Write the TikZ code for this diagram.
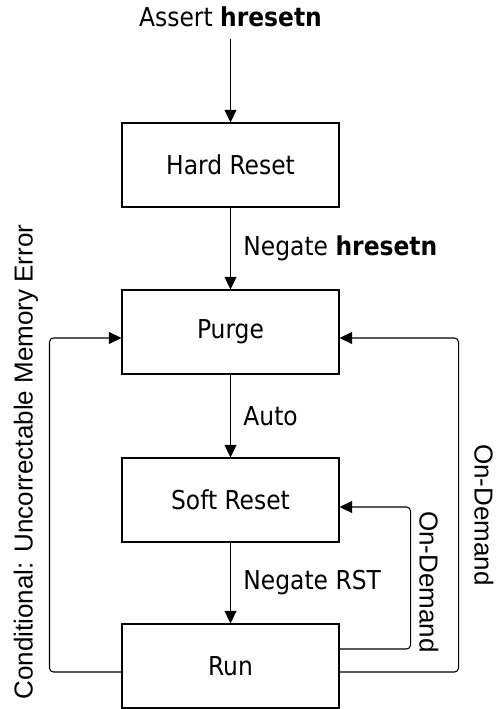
\documentclass[tikz,border=0pt]{standalone}
\usepackage{fontspec}
\setmainfont{DejaVu Sans Condensed}
\newfontfamily\sidefont{Liberation Sans}
\usetikzlibrary{arrows.meta,positioning}
\tikzset{
  statebox/.style={draw,line width=0.8pt,minimum width=162.75pt,minimum height=63pt,
                   font=\fontsize{19.5}{23}\selectfont},
  arr/.style={-{Triangle[length=9.5pt,width=9pt]},line width=0.8pt},
  lbl/.style={font=\fontsize{19.5}{23}\selectfont},
  side/.style={font=\sidefont\fontsize{19.5}{23}\selectfont},
}

\begin{document}
\begin{tikzpicture}[x=0.75pt,y=-0.75pt]
\useasboundingbox (0,0) rectangle (496,709);

% states
\node[statebox] (hard)  at (230.5,165) {Hard Reset};
\node[statebox] (purge) at (230.5,332) {Purge};
\node[statebox] (soft)  at (230.5,500) {Soft Reset};
\node[statebox] (run)   at (230.5,666) {Run};

\node[lbl,anchor=base] (assert) at (230.5,27) {Assert \textbf{hresetn}};

% main flow
\draw[arr,shorten <=5pt] (assert) -- (hard);
\draw[arr] (hard) -- node[lbl,right=6pt] {Negate \textbf{hresetn}} (purge);
\draw[arr] (purge) -- node[lbl,right=6pt] {Auto} (soft);
\draw[arr] (soft) -- node[lbl,right=6pt] {Negate RST} (run);

% return paths
\draw[arr,rounded corners=3pt] ([yshift=-4.5pt]run.west) -- ++(-72,0)
  |- ([yshift=-4.5pt]purge.west);
\draw[arr,rounded corners=3pt] ([yshift=-4.5pt]run.east) -- ++(119,0)
  |- ([yshift=-4.5pt]purge.east);
\draw[arr,rounded corners=3pt] ([yshift=12.75pt]run.east) -- ++(71,0)
  |- ([yshift=-5.25pt]soft.east);

% side labels
\node[side,rotate=90]  (cond)   at (26,462)  {Conditional: Uncorrectable Memory Error};
\node[side,rotate=-90] (ondem)  at (484,515) {On-Demand};
\node[side,rotate=-90] (ondem2) at (429,582) {On-Demand};

\end{tikzpicture}
\end{document}
